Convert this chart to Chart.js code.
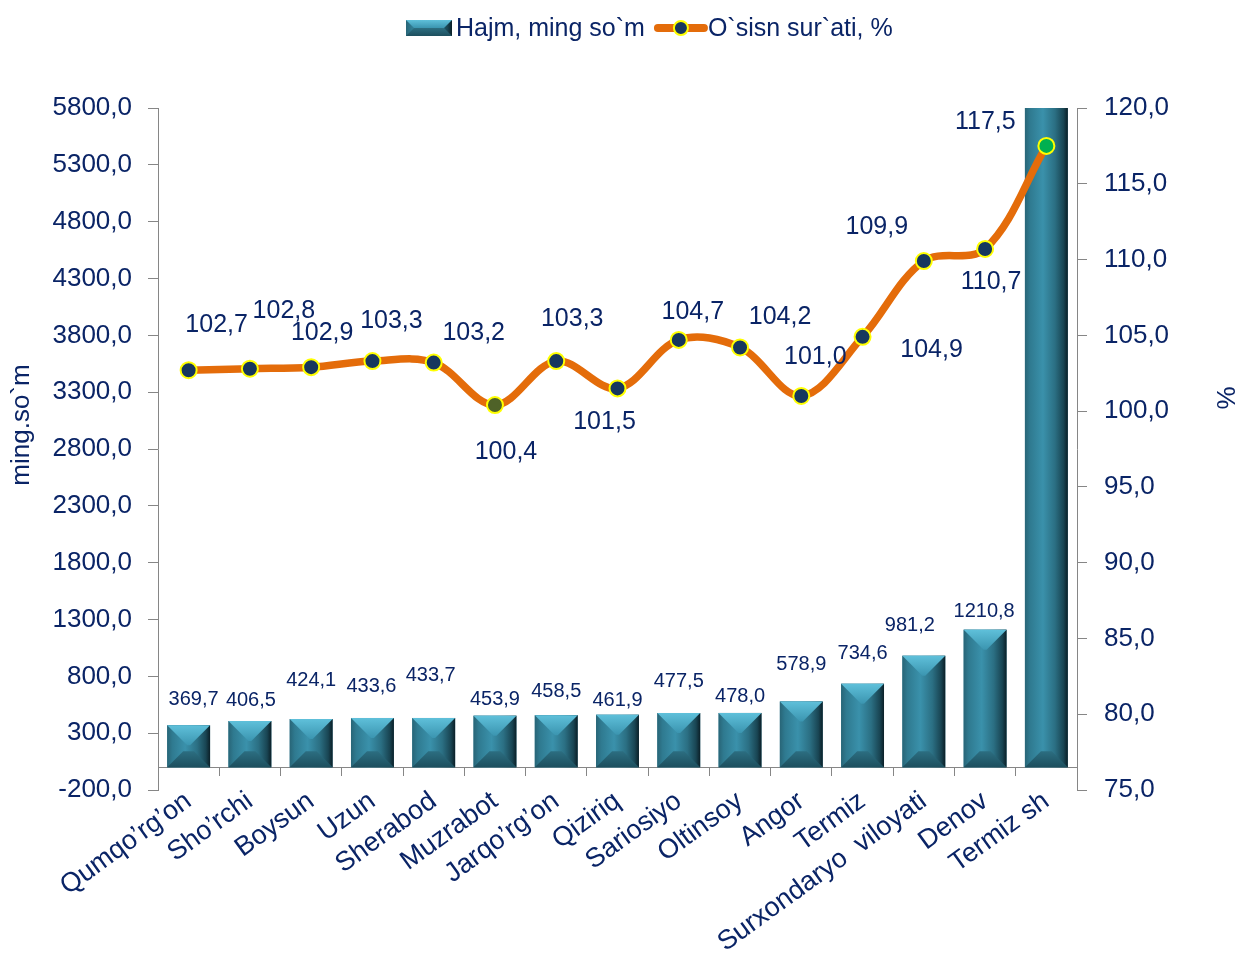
<!DOCTYPE html>
<html><head><meta charset="utf-8">
<script src="https://cdn.jsdelivr.net/npm/chart.js@4.4.1/dist/chart.umd.min.js"></script>
<style>html,body{margin:0;padding:0;background:#fff;}canvas{display:block;}</style>
</head><body>
<canvas id="c" width="1242" height="958"></canvas>
<script>
// ---------- data ----------
const categories = ['Qumqo’rg’on','Sho’rchi','Boysun','Uzun','Sherabod','Muzrabot','Jarqo’rg’on','Qiziriq','Sariosiyo','Oltinsoy','Angor','Termiz','Surxondaryo  viloyati','Denov','Termiz sh'];
const volume = [369.7,406.5,424.1,433.6,433.7,453.9,458.5,461.9,477.5,478.0,578.9,734.6,981.2,1210.8,6200];
const growth = [102.7,102.8,102.9,103.3,103.2,100.4,103.3,101.5,104.7,104.2,101.0,104.9,109.9,110.7,117.5];
const leftTicks = [-200,300,800,1300,1800,2300,2800,3300,3800,4300,4800,5300,5800];
const rightTicks = [75,80,85,90,95,100,105,110,115,120];
const seriesNames = ['Hajm, ming so`m','O`sisn sur`ati, %'];
const axisTitles = ['ming.so`m','%'];

// ---------- styles ----------
const FONT = "'Liberation Sans', Arial, sans-serif";
const TXT = '#0a2466';
const AXIS = '#868686';
const pointFill = ['#17375E','#17375E','#17375E','#17375E','#17375E','#4F6228','#17375E','#17375E','#17375E','#17375E','#17375E','#17375E','#17375E','#17375E','#00B050'];
// label offsets (px) relative to the point / bar top
const growthLabelOffset = [[28,-45],[34,-58],[11,-34],[19,-40],[40,-30],[11,47],[16,-42],[-13,34],[14,-28],[40,-30],[14,-39],[69,13],[-47,-34],[6,33],[-61,-24]];
const volumeLabelOffset = [[5,-26],[1,-21],[0,-39],[-1,-31],[-3,-42],[0,-16],[0,-24],[0,-14],[0,-32],[0,-16],[0,-37],[0,-30],[-14,-30],[-1,-18],[0,-20]];

const fmt = v => Number(v).toFixed(1).replace('.', ',');

function barFace(ctx, left, top, w, h, clipTop) {
  const right = left + w, bottom = top + h;
  const g = ctx.createLinearGradient(left, 0, right, 0);
  g.addColorStop(0, '#286577');
  g.addColorStop(0.12, '#2f7a90');
  g.addColorStop(0.42, '#3a91ab');
  g.addColorStop(0.7, '#2b6f83');
  g.addColorStop(0.9, '#194553');
  g.addColorStop(1, '#0b1f27');
  ctx.fillStyle = g;
  ctx.fillRect(left, top, w, h);
  const d = Math.min(w / 2, h / 2, 20);
  if (!clipTop) {
    const gt = ctx.createLinearGradient(0, top, 0, top + d);
    gt.addColorStop(0, '#5fc0da');
    gt.addColorStop(1, '#3b95b0');
    ctx.fillStyle = gt;
    ctx.beginPath();
    ctx.moveTo(left, top); ctx.lineTo(right, top); ctx.lineTo(right - d, top + d); ctx.lineTo(left + d, top + d); ctx.closePath();
    ctx.fill();
  }
  const db = Math.min(w / 2, h / 2, 16);
  const gb = ctx.createLinearGradient(0, bottom - db, 0, bottom);
  gb.addColorStop(0, '#2c6e81');
  gb.addColorStop(1, '#1d4f5e');
  ctx.fillStyle = gb;
  ctx.beginPath();
  ctx.moveTo(left, bottom); ctx.lineTo(right, bottom); ctx.lineTo(right - db, bottom - db); ctx.lineTo(left + db, bottom - db); ctx.closePath();
  ctx.fill();
}

const bevelPlugin = {
  id: 'bevel',
  afterDatasetDraw(chart, args) {
    const meta = chart.getDatasetMeta(args.index);
    if (meta.type !== 'bar') return;
    const ctx = chart.ctx, ca = chart.chartArea;
    ctx.save();
    ctx.beginPath(); ctx.rect(ca.left, ca.top, ca.right - ca.left, ca.bottom - ca.top); ctx.clip();
    meta.data.forEach(el => {
      const p = el.getProps(['x','y','base','width'], true);
      const left = p.x - p.width / 2;
      const top = Math.min(p.y, p.base);
      const h = Math.abs(p.base - p.y);
      barFace(ctx, left, top, p.width, h, top < ca.top);
    });
    ctx.restore();
  }
};

const labelPlugin = {
  id: 'labels',
  afterDatasetsDraw(chart) {
    const ctx = chart.ctx, ca = chart.chartArea;
    ctx.save();
    ctx.fillStyle = TXT;
    ctx.textAlign = 'center';
    ctx.textBaseline = 'middle';
    chart.data.datasets.forEach((ds, di) => {
      const meta = chart.getDatasetMeta(di);
      meta.data.forEach((el, i) => {
        const p = el.getProps(['x','y'], true);
        if (meta.type === 'bar') {
          const o = volumeLabelOffset[i];
          const y = p.y + o[1];
          if (y < ca.top) return;
          ctx.font = '20px ' + FONT;
          ctx.fillText(fmt(ds.data[i]), p.x + o[0], y);
        } else {
          const o = growthLabelOffset[i];
          ctx.font = '25px ' + FONT;
          ctx.fillText(fmt(ds.data[i]), p.x + o[0], p.y + o[1]);
        }
      });
    });
    ctx.restore();
  }
};

const decorPlugin = {
  id: 'decor',
  afterDraw(chart) {
    const ctx = chart.ctx;
    ctx.save();
    ctx.fillStyle = TXT;
    ctx.font = '26px ' + FONT;
    ctx.textAlign = 'center'; ctx.textBaseline = 'middle';
    ctx.save(); ctx.translate(22, 425); ctx.rotate(-Math.PI / 2); ctx.fillText(axisTitles[0], 0, 0); ctx.restore();
    ctx.save(); ctx.translate(1228, 398); ctx.rotate(-Math.PI / 2); ctx.fillText(axisTitles[1], 0, 0); ctx.restore();
    const cy = 28;
    ctx.font = '25px ' + FONT;
    ctx.textAlign = 'left';
    let x = 406;
    barFace(ctx, x, cy - 8, 46, 16, false);
    x += 50;
    ctx.fillStyle = TXT;
    ctx.fillText(seriesNames[0], x, cy + 1);
    x += ctx.measureText(seriesNames[0]).width + 10;
    ctx.strokeStyle = '#E46C0A'; ctx.lineWidth = 8; ctx.lineCap = 'round';
    ctx.beginPath(); ctx.moveTo(x + 3, cy); ctx.lineTo(x + 49, cy); ctx.stroke();
    ctx.beginPath(); ctx.arc(x + 26, cy, 7, 0, Math.PI * 2);
    ctx.fillStyle = '#17375E'; ctx.fill();
    ctx.lineWidth = 2; ctx.strokeStyle = '#FFFF00'; ctx.stroke();
    x += 53;
    ctx.fillStyle = TXT;
    ctx.fillText(seriesNames[1], x, cy + 1);
    ctx.restore();
  }
};

const tickFont = { family: FONT, size: 26 };

new Chart(document.getElementById('c').getContext('2d'), {
  type: 'bar',
  data: {
    labels: categories,
    datasets: [
      {
        type: 'line', label: seriesNames[1], data: growth, yAxisID: 'y1', order: 0,
        borderColor: '#E46C0A', borderWidth: 7.5, tension: 0.35, fill: false,
        borderCapStyle: 'round', borderJoinStyle: 'round',
        pointRadius: 8, pointHoverRadius: 8, pointBackgroundColor: pointFill,
        pointBorderColor: '#FFFF00', pointBorderWidth: 2
      },
      {
        type: 'bar', label: seriesNames[0], data: volume, yAxisID: 'y', order: 1,
        backgroundColor: '#337f96', barPercentage: 0.7, categoryPercentage: 1.0
      }
    ]
  },
  options: {
    responsive: false, animation: false, devicePixelRatio: 1,
    layout: { padding: { top: 108, left: 0, right: 0, bottom: 168 } },
    plugins: { legend: { display: false }, tooltip: { enabled: false } },
    scales: {
      x: {
        position: { y: 0 },
        grid: { display: true, drawOnChartArea: false, drawTicks: true, tickLength: 8, color: AXIS, offset: true },
        border: { display: true, color: AXIS, width: 1 },
        ticks: { autoSkip: false, minRotation: 36, maxRotation: 36, color: TXT, font: { family: FONT, size: 27 }, padding: 10 }
      },
      y: {
        position: 'left', min: -200, max: 5800,
        afterBuildTicks(s) { s.ticks = leftTicks.map(v => ({ value: v })); },
        grid: { drawOnChartArea: false, drawTicks: true, tickLength: 10, color: AXIS },
        border: { display: true, color: AXIS, width: 1 },
        ticks: { color: TXT, font: tickFont, padding: 16, callback: v => fmt(v) },
        afterFit(s) { s.width = 158; }
      },
      y1: {
        position: 'right', min: 75, max: 120,
        afterBuildTicks(s) { s.ticks = rightTicks.map(v => ({ value: v })); },
        grid: { drawOnChartArea: false, drawTicks: true, tickLength: 10, color: AXIS },
        border: { display: true, color: AXIS, width: 1 },
        ticks: { color: TXT, font: tickFont, padding: 17, callback: v => fmt(v) },
        afterFit(s) { s.width = 1242 - 1077; }
      }
    }
  },
  plugins: [bevelPlugin, labelPlugin, decorPlugin]
});
</script>
</body></html>
